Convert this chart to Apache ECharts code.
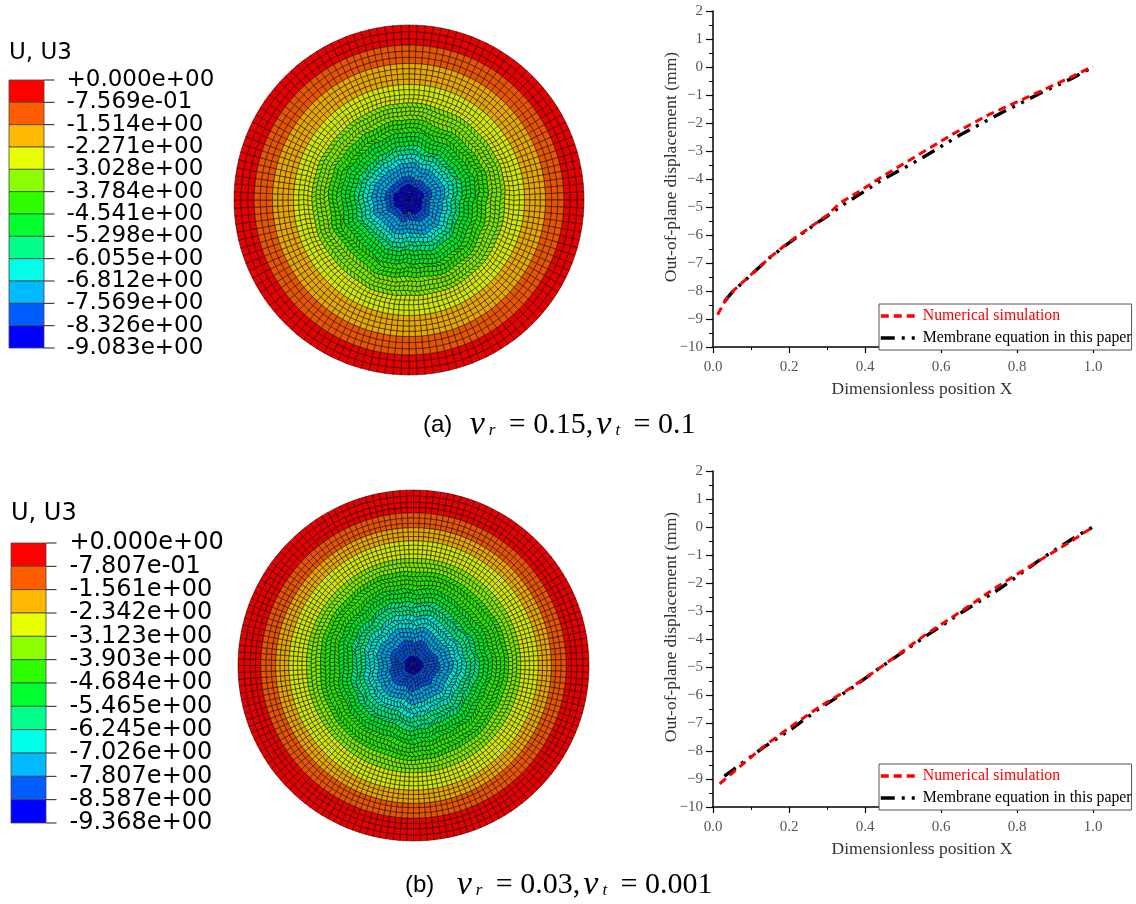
<!DOCTYPE html>
<html lang="en">
  <head>
    <meta charset="UTF-8" />
    <title>Out-of-plane displacement</title>
    <style>
      html, body { margin: 0; padding: 0; background: #fff; }
    </style>
  </head>
  <body>
    <div id="main" style="width: 1136px; height: 904px;"></div>
    <script src="https://cdn.jsdelivr.net/npm/echarts@6/dist/echarts.min.js"></script>
    <script>
      // contour legend
      const levelsA = ['+0.000e+00', '-7.569e-01', '-1.514e+00', '-2.271e+00', '-3.028e+00', '-3.784e+00', '-4.541e+00', '-5.298e+00', '-6.055e+00', '-6.812e+00', '-7.569e+00', '-8.326e+00', '-9.083e+00']
      const levelsB = ['+0.000e+00', '-7.807e-01', '-1.561e+00', '-2.342e+00', '-3.123e+00', '-3.903e+00', '-4.684e+00', '-5.465e+00', '-6.245e+00', '-7.026e+00', '-7.807e+00', '-8.587e+00', '-9.368e+00']
      const bandColors = ['#ff0000', '#ff5d00', '#ffb900', '#e7ff00', '#8bff00', '#2eff00', '#00ff2e', '#00ff8b', '#00ffe8', '#00b9ff', '#005dff', '#0000ff']
      const discColors = ['#e80000', '#e85400', '#e8a800', '#d2e800', '#7ee800', '#2ae600', '#00e62a', '#00e67e', '#00e6d2', '#00a6e8', '#0054e8', '#0000e0']

      // radius (0-1) where each colour band ends, read from the discs
      const bandEdgesA = [0.88, 0.77, 0.65, 0.54, 0.45, 0.37, 0.31, 0.25, 0.19, 0.13, 0.085]
      const bandEdgesB = [0.885, 0.79, 0.7, 0.615, 0.53, 0.445, 0.36, 0.29, 0.21, 0.125, 0.06]

      // mesh rings: outer edges and element count per ring
      const ringEdgesA = [1, 0.96, 0.92, 0.885, 0.85, 0.815, 0.78, 0.75, 0.72, 0.69, 0.66, 0.63, 0.6, 0.575, 0.55, 0.525, 0.5, 0.475, 0.45, 0.425, 0.4, 0.375, 0.35, 0.325, 0.3, 0.275, 0.25, 0.225, 0.2, 0.175, 0.15, 0.125, 0.1, 0.08, 0.06, 0.04, 0.02, 0]
      const ringCellsA = [136, 136, 136, 136, 136, 136, 136, 136, 136, 136, 136, 136, 136, 136, 128, 128, 128, 112, 112, 112, 96, 96, 96, 80, 80, 72, 64, 64, 56, 48, 48, 40, 36, 32, 24, 16, 8]
      const ringEdgesB = [1, 0.965, 0.93, 0.9, 0.87, 0.84, 0.81, 0.785, 0.76, 0.735, 0.71, 0.685, 0.66, 0.635, 0.61, 0.585, 0.56, 0.535, 0.51, 0.485, 0.46, 0.435, 0.41, 0.385, 0.36, 0.335, 0.31, 0.285, 0.26, 0.235, 0.21, 0.185, 0.16, 0.135, 0.11, 0.09, 0.07, 0.05, 0.03, 0.015, 0]
      const ringCellsB = [160, 160, 160, 160, 160, 160, 160, 160, 160, 160, 160, 160, 160, 160, 160, 150, 150, 150, 132, 132, 132, 120, 120, 108, 108, 96, 96, 84, 84, 72, 64, 56, 56, 48, 40, 36, 28, 24, 16, 8]

      // how far the inner mesh is pushed out of round, per 22.5 degree sector
      const warpA = [0.012, -0.006, 0.004, 0.014, -0.01, -0.004, 0.016, 0.006, -0.012, 0.002, -0.014, 0.01, 0.004, 0.016, -0.008, 0.002]
      const warpB = [-0.004, 0.012, -0.012, 0.006, 0.014, -0.008, 0.002, -0.006, 0.012, -0.012, 0.01, 0.004, -0.014, 0.008, 0.002, 0.012]

      // displacement curves, [X, w]
      const simulationA = [[0.012, -8.85], [0.03, -8.4], [0.05, -8.03], [0.1, -7.42], [0.15, -6.8], [0.2, -6.25], [0.25, -5.78], [0.3, -5.3], [0.334, -4.86], [0.39, -4.4], [0.44, -3.96], [0.54, -3.14], [0.632, -2.39], [0.729, -1.68], [0.829, -1.07], [0.931, -0.43], [1, 0.02]]
      const membraneA = [[0.03, -8.38], [0.05, -8.05], [0.1, -7.42], [0.15, -6.8], [0.2, -6.28], [0.25, -5.8], [0.3, -5.33], [0.35, -4.85], [0.4, -4.43], [0.44, -4.07], [0.545, -3.29], [0.65, -2.43], [0.763, -1.61], [0.868, -0.89], [0.947, -0.39], [1, 0]]
      const simulationB = [[0.0175, -9.17], [0.05, -8.8], [0.13, -7.87], [0.2, -7.18], [0.28, -6.42], [0.36, -5.77], [0.44, -5.02], [0.562, -3.82], [0.65, -3.04], [0.747, -2.14], [0.839, -1.36], [0.939, -0.54], [1, 0]]
      const membraneB = [[0.03, -8.9], [0.05, -8.7], [0.13, -7.9], [0.21, -7.18], [0.28, -6.48], [0.36, -5.8], [0.44, -5.02], [0.562, -3.88], [0.66, -3], [0.755, -2.2], [0.868, -1.1], [0.96, -0.3], [1, 0]]

      const majorX = [0, 0.2, 0.4, 0.6, 0.8, 1]
      const nameSim = 'Numerical simulation'
      const nameMem = 'Membrane equation in this paper'

      const serif = '"Liberation Serif", serif'
      const myChart = echarts.init(document.getElementById('main'))

      // mesh cells for one disc: [r0, r1, a0, a1, band]
      function buildCells(edges, counts, bandEdges) {
        let cells = []
        counts.forEach((n, i) => {
          let step = 360 / n
          let start = n < counts[0] ? (i % 3) * step * 0.33 : 0
          let mid = (edges[i] + edges[i + 1]) / 2
          let band = bandEdges.findIndex(e => mid >= e)
          if (band < 0) band = 11
          for (let k = 0; k < n; k++) {
            cells.push([edges[i + 1], edges[i], start + k * step, start + (k + 1) * step, band])
          }
        })
        return cells
      }

      function warpMask(r) {
        return r > 0.62 ? 0 : r > 0.42 ? (0.62 - r) / 0.2 : r > 0.12 ? 1 : r / 0.12
      }

      function warpSample(warp, a) {
        let pos = ((a % 360) + 360) % 360 / 22.5
        let i = Math.floor(pos)
        let t = pos - i
        return warp[i % 16] * (1 - t) + warp[(i + 1) % 16] * t
      }

      // node of the mesh after the inner part is pushed out of round
      function meshNode(api, warp, r, a) {
        let mask = warpMask(r)
        let rr = r + mask * (warpSample(warp, a) + 0.6 * warpSample(warp, a * 3 + 40))
        let twist = mask * warp[Math.floor(r * 37) % 16] * 150
        return api.coord([rr, a + twist])
      }

      function discSeries(index, edges, counts, bandEdges, warp) {
        return {
          type: 'custom',
          coordinateSystem: 'polar',
          polarIndex: index,
          silent: true,
          animation: false,
          progressive: 0,
          clip: false,
          data: buildCells(edges, counts, bandEdges),
          encode: { radius: 0, angle: 2 },
          renderItem: function (params, api) {
            let r0 = api.value(0), r1 = api.value(1), a0 = api.value(2), a1 = api.value(3)
            let pts = [
              meshNode(api, warp, r0, a0),
              meshNode(api, warp, r0, a1),
              meshNode(api, warp, r1, a1),
              meshNode(api, warp, r1, a0)
            ]
            return {
              type: 'polygon',
              shape: { points: pts },
              style: { fill: discColors[api.value(4)], stroke: 'rgba(0,0,0,0.7)', lineWidth: 0.7 }
            }
          }
        }
      }

      function barSeries(xIndex, yIndex, labels) {
        return {
          type: 'custom',
          xAxisIndex: xIndex,
          yAxisIndex: yIndex,
          silent: true,
          animation: false,
          clip: false,
          data: labels.map((c, i) => [0, i]),
          encode: { x: 0, y: 1 },
          renderItem: function (params, api) {
            let i = api.value(1)
            let p0 = api.coord([0, i])
            let p1 = api.coord([1, i + 1])
            let t0 = api.coord([1, i])
            let t1 = api.coord([1.3, i])
            let children = [{
              type: 'line',
              shape: { x1: t0[0], y1: t0[1], x2: t1[0], y2: t1[1] },
              style: { stroke: '#222', lineWidth: 1 }
            }]
            if (i < bandColors.length) {
              children.push({
                type: 'rect',
                shape: { x: p0[0], y: p0[1], width: p1[0] - p0[0], height: p1[1] - p0[1] },
                style: { fill: bandColors[i], stroke: '#444', lineWidth: 0.8 }
              })
            }
            return { type: 'group', children: children }
          }
        }
      }

      function lineSeries(name, data, xIndex, yIndex, color, dash, width, z) {
        return {
          name: name,
          type: 'line',
          xAxisIndex: xIndex,
          yAxisIndex: yIndex,
          data: data,
          showSymbol: false,
          symbol: 'none',
          smooth: false,
          animation: false,
          z: z,
          lineStyle: { color: color, width: width, type: dash, cap: 'butt' },
          itemStyle: { color: color }
        }
      }

      function mainX(index) {
        return {
          type: 'value',
          gridIndex: index,
          min: 0,
          max: 1.1,
          interval: 0.1,
          name: 'Dimensionless position X',
          nameLocation: 'middle',
          nameGap: 33,
          nameTextStyle: { fontFamily: serif, fontSize: 17.5, color: '#333' },
          axisLine: { onZero: false, lineStyle: { color: '#000', width: 1.5 } },
          axisTick: { length: 3, lineStyle: { color: '#000', width: 1 } },
          axisLabel: {
            fontFamily: serif,
            fontSize: 15,
            color: '#555',
            margin: 13,
            showMaxLabel: false,
            formatter: v => (majorX.some(m => Math.abs(m - v) < 1e-6) ? v.toFixed(1) : '')
          },
          splitLine: { show: false }
        }
      }

      function majorTickX(index) {
        return {
          type: 'value',
          gridIndex: index,
          min: 0,
          max: 1.1,
          position: 'bottom',
          axisLine: { show: false, onZero: false },
          axisTick: { show: true, length: 6, customValues: majorX, lineStyle: { color: '#000', width: 1.2 } },
          axisLabel: { show: false },
          splitLine: { show: false }
        }
      }

      function mainY(index) {
        return {
          type: 'value',
          gridIndex: index,
          min: -10,
          max: 2,
          interval: 1,
          name: 'Out-of-plane displacement (mm)',
          nameLocation: 'middle',
          nameGap: 33,
          nameMoveOverlap: false,
          nameTextStyle: { fontFamily: serif, fontSize: 17.5, color: '#333', padding: [0, 0, 0, 24] },
          axisLine: { show: true, onZero: false, lineStyle: { color: '#000', width: 1.5 } },
          axisTick: { show: true, length: 7, lineStyle: { color: '#000', width: 1.2 } },
          minorTick: { show: true, splitNumber: 2, length: 4, lineStyle: { color: '#000', width: 1 } },
          axisLabel: {
            fontFamily: serif,
            fontSize: 15,
            color: '#555',
            margin: 10,
            padding: [3, 0, 0, 0],
            formatter: v => String(v).replace('-', '\u2212')
          },
          splitLine: { show: false }
        }
      }

      function barY(index, labels, margin, size) {
        return {
          type: 'category',
          gridIndex: index,
          data: labels,
          inverse: true,
          position: 'right',
          boundaryGap: false,
          axisLine: { show: false },
          axisTick: { show: false },
          axisLabel: {
            interval: 0,
            margin: margin,
            fontFamily: '"DejaVu Sans", sans-serif',
            fontSize: size,
            color: '#000',
            padding: [0, 0, 6, 0]
          }
        }
      }

      function hiddenX(index, max) {
        return { type: 'value', gridIndex: index, min: 0, max: max, show: false }
      }

      function legendAt(top) {
        return {
          left: 879,
          top: top,
          orient: 'vertical',
          align: 'left',
          selectedMode: false,
          padding: [4, 0, 4, 0],
          itemWidth: 37,
          itemHeight: 14,
          itemGap: 6,
          borderColor: '#555',
          borderWidth: 1,
          backgroundColor: '#fff',
          itemStyle: { opacity: 0 },
          lineStyle: { width: 3.5 },
          textStyle: { fontFamily: serif, fontSize: 15.8, color: '#000' },
          data: [
            { name: nameSim, textStyle: { color: '#ff0000' } },
            { name: nameMem, textStyle: { color: '#000' } }
          ]
        }
      }

      const captionRich = {
        pa: { fontFamily: 'Liberation Sans', fontSize: 24, fontWeight: 'normal', color: '#000', padding: [0, 1, 0, 0] },
        pb: { fontFamily: 'Liberation Sans', fontSize: 24, fontWeight: 'normal', color: '#000', padding: [0, 6, 0, 0] },
        v: { fontFamily: serif, fontStyle: 'italic', fontWeight: 'normal', fontSize: 34, color: '#000', padding: [0, 0, 0, 3] },
        s: { fontFamily: serif, fontStyle: 'italic', fontWeight: 'normal', fontSize: 17, color: '#000', padding: [12, 6, 0, 4] },
        m: { fontFamily: serif, fontWeight: 'normal', fontSize: 30, color: '#000' }
      }

      let option = {
        backgroundColor: '#fff',
        animation: false,
        title: [
          { text: 'U, U3', left: 9, top: 42, padding: 0, textStyle: { fontFamily: '"DejaVu Sans"', fontSize: 23, fontWeight: 'normal', color: '#000' } },
          { text: 'U, U3', left: 11, top: 502, padding: 0, textStyle: { fontFamily: '"DejaVu Sans"', fontSize: 24, fontWeight: 'normal', color: '#000' } },
          { text: '{pa|(a)  }{v|\u03bd}{s|r}{m| = 0.15,}{v|\u03bd}{s|t}{m| = 0.1}', left: 423, top: 408, padding: 0, textStyle: { rich: captionRich } },
          { text: '{pb|(b)  }{v|\u03bd}{s|r}{m| = 0.03,}{v|\u03bd}{s|t}{m| = 0.001}', left: 405, top: 868, padding: 0, textStyle: { rich: captionRich } }
        ],
        legend: [legendAt(304), legendAt(764)],
        grid: [
          { left: 713, top: 11, width: 418, height: 336 },
          { left: 713, top: 471, width: 418, height: 336 },
          { left: 9, top: 80, width: 45.5, height: 268 },
          { left: 11, top: 543, width: 45.5, height: 280 }
        ],
        xAxis: [mainX(0), mainX(1), majorTickX(0), majorTickX(1), hiddenX(2, 1.3), hiddenX(3, 1.3)],
        yAxis: [mainY(0), mainY(1), barY(2, levelsA, 12, 23), barY(3, levelsB, 13, 24)],
        polar: [
          { center: [409, 200], radius: 175 },
          { center: [413.5, 665.5], radius: 175.5 }
        ],
        radiusAxis: [
          { polarIndex: 0, min: 0, max: 1, show: false },
          { polarIndex: 1, min: 0, max: 1, show: false }
        ],
        angleAxis: [
          { polarIndex: 0, min: 0, max: 360, show: false },
          { polarIndex: 1, min: 0, max: 360, show: false }
        ],
        series: [
          discSeries(0, ringEdgesA, ringCellsA, bandEdgesA, warpA),
          discSeries(1, ringEdgesB, ringCellsB, bandEdgesB, warpB),
          barSeries(4, 2, levelsA),
          barSeries(5, 3, levelsB),
          lineSeries(nameMem, membraneA, 0, 0, '#000', [14, 7, 3, 7, 3, 7], 3.4, 2),
          lineSeries(nameSim, simulationA, 0, 0, '#ff0000', [8, 5], 3, 3),
          lineSeries(nameMem, membraneB, 1, 1, '#000', [14, 7, 3, 7, 3, 7], 3.4, 2),
          lineSeries(nameSim, simulationB, 1, 1, '#ff0000', [8, 5], 3, 3)
        ]
      }
      myChart.setOption(option)
    </script>
  </body>
</html>
